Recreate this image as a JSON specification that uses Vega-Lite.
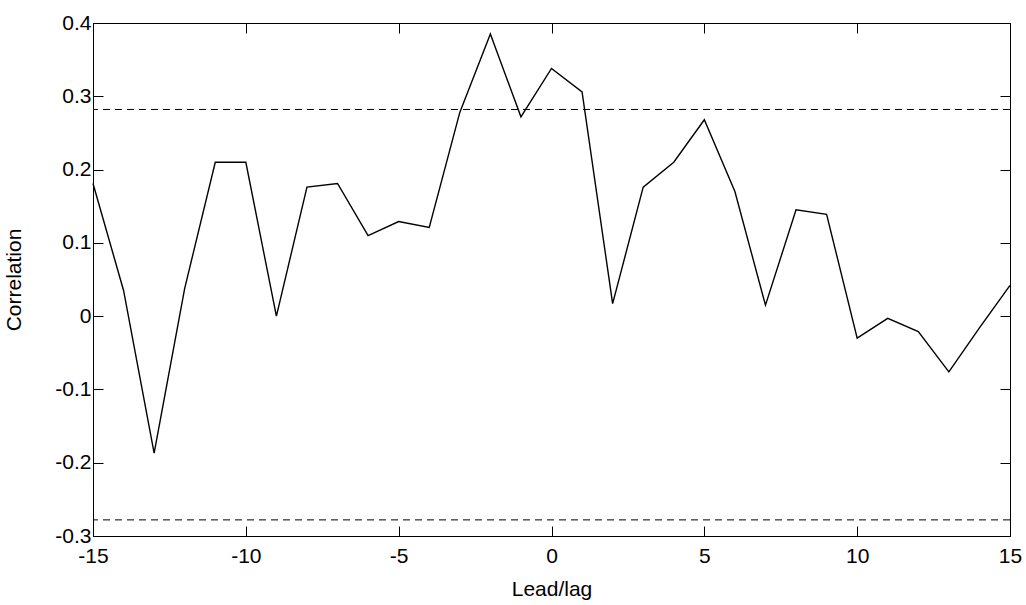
{
  "$schema": "https://vega.github.io/schema/vega-lite/v6.json",
  "width": 917,
  "height": 513,
  "autosize": {"type": "none"},
  "padding": {"left": 93, "top": 23, "right": 16, "bottom": 69},
  "background": "white",
  "config": {
    "view": {"stroke": "#000", "strokeWidth": 1},
    "axis": {
      "domainColor": "#000",
      "tickColor": "#000",
      "tickSize": -10,
      "grid": false,
      "labelFont": "Liberation Sans",
      "labelFontSize": 21,
      "labelColor": "#000",
      "titleFont": "Liberation Sans",
      "titleFontSize": 21,
      "titleFontWeight": "normal",
      "titleColor": "#000"
    }
  },
  "datasets": {
    "xc": [
      {"lag": -15, "corr": 0.181}, {"lag": -14, "corr": 0.035}, {"lag": -13, "corr": -0.187},
      {"lag": -12, "corr": 0.038}, {"lag": -11, "corr": 0.210}, {"lag": -10, "corr": 0.210},
      {"lag": -9, "corr": 0.0}, {"lag": -8, "corr": 0.176}, {"lag": -7, "corr": 0.181},
      {"lag": -6, "corr": 0.110}, {"lag": -5, "corr": 0.129}, {"lag": -4, "corr": 0.121},
      {"lag": -3, "corr": 0.278}, {"lag": -2, "corr": 0.385}, {"lag": -1, "corr": 0.272},
      {"lag": 0, "corr": 0.338}, {"lag": 1, "corr": 0.306}, {"lag": 2, "corr": 0.017},
      {"lag": 3, "corr": 0.176}, {"lag": 4, "corr": 0.210}, {"lag": 5, "corr": 0.268},
      {"lag": 6, "corr": 0.170}, {"lag": 7, "corr": 0.015}, {"lag": 8, "corr": 0.145},
      {"lag": 9, "corr": 0.139}, {"lag": 10, "corr": -0.030}, {"lag": 11, "corr": -0.003},
      {"lag": 12, "corr": -0.021}, {"lag": 13, "corr": -0.076}, {"lag": 14, "corr": -0.016},
      {"lag": 15, "corr": 0.042}
    ],
    "bounds": [{"thr": 0.282}, {"thr": -0.278}]
  },
  "layer": [
    {
      "data": {"name": "bounds"},
      "mark": {"type": "rule", "stroke": "#000", "strokeWidth": 1, "strokeDash": [7, 5]},
      "encoding": {
        "y": {
          "field": "thr", "type": "quantitative",
          "scale": {"domain": [-0.3, 0.4], "nice": false, "zero": false},
          "axis": {"orient": "right", "labels": false, "title": null,
                   "values": [-0.3, -0.2, -0.1, 0, 0.1, 0.2, 0.3, 0.4]}
        }
      }
    },
    {
      "data": {"name": "xc"},
      "mark": {"type": "line", "strokeOpacity": 0},
      "encoding": {
        "x": {
          "field": "lag", "type": "quantitative",
          "scale": {"domain": [-15, 15], "nice": false, "zero": false},
          "axis": {"orient": "top", "labels": false, "title": null,
                   "values": [-15, -10, -5, 0, 5, 10, 15]}
        },
        "y": {"field": "corr", "type": "quantitative", "axis": null}
      }
    },
    {
      "data": {"name": "xc"},
      "mark": {"type": "line", "stroke": "#000", "strokeWidth": 1.4},
      "encoding": {
        "x": {
          "field": "lag", "type": "quantitative",
          "axis": {"orient": "bottom", "title": "Lead/lag",
                   "values": [-15, -10, -5, 0, 5, 10, 15],
                   "labelExpr": "'' + datum.value",
                   "labelPadding": 19, "titlePadding": 12, "labelFlush": false}
        },
        "y": {
          "field": "corr", "type": "quantitative",
          "axis": {"orient": "left", "title": "Correlation",
                   "values": [-0.3, -0.2, -0.1, 0, 0.1, 0.2, 0.3, 0.4],
                   "labelExpr": "'' + datum.value",
                   "labelPadding": 12, "titlePadding": 30}
        }
      }
    }
  ],
  "resolve": {"axis": {"x": "independent", "y": "independent"}}
}
